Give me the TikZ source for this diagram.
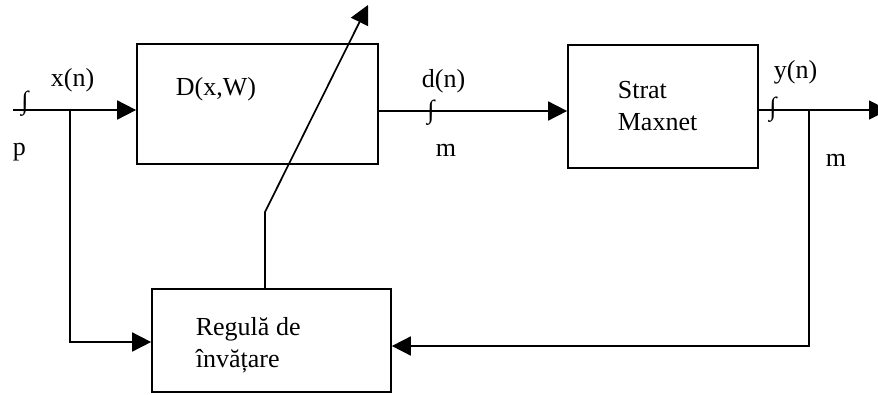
\documentclass[tikz,border=0pt]{standalone}
\usepackage{fontspec}
\setmainfont{Liberation Serif}
\usetikzlibrary{arrows.meta}
\begin{document}
\begin{tikzpicture}[x=1pt,y=-1pt,
  font=\fontsize{26}{33}\selectfont,
  line width=1.7pt,
  block/.style={draw, line width=1.7pt, inner sep=0pt},
  lbl/.style={anchor=base west, inner sep=0pt},
  intg/.style={inner sep=0pt, font=\fontsize{26}{26}\selectfont},
  arr/.style={-{Triangle[length=19pt,width=19pt]}}]
\clip (0,0) rectangle (878,394);
\useasboundingbox (0,0) rectangle (878,394);

% blocks
\node[block, minimum width=241pt, minimum height=120pt] (D) at (257.5,104) {};
\node[block, minimum width=190pt, minimum height=123pt] (S) at (663,106.5) {};
\node[block, minimum width=239pt, minimum height=103pt] (R) at (271.5,340.5) {};

% block texts
\node[lbl] (Dt) at (175,95) {D(x,W)};
\node[lbl] (St1) at (617,98) {Strat};
\node[lbl] (St2) at (617,130) {Maxnet};
\node[lbl] (Rt1) at (195,335) {Regulă de};
\node[lbl] (Rt2) at (195,367) {învățare};

% signal labels
\node[lbl] (xl) at (50,86) {x(n)};
\node[lbl] (dl) at (421,87) {d(n)};
\node[lbl] (yl) at (773,78) {y(n)};
\node[lbl] (pl) at (12,155) {p};
\node[lbl] (ml1) at (435,156) {m};
\node[lbl] (ml2) at (825,166) {m};

% integral marks on the lines
\node[intg] (i1) at (25,104) {∫};
\node[intg] (i2) at (431,113) {∫};
\node[intg] (i3) at (773,110) {∫};

% connection points
\coordinate (xin) at (13,110);
\coordinate (xb) at (70,110);
\coordinate (yb) at (809,110);
\coordinate (yout) at (888,110);
\coordinate (bend) at (265,212);
\coordinate (tip) at (368,5);

% forward path
\draw[arr] (xin) -- (D.west |- xin);
\draw[arr] (D.east |- 0,111) -- (S.west |- 0,111);
\draw[arr] (S.east |- yout) -- (yout);

% feedback into the learning rule
\draw[arr] (xb) |- (R.west |- 0,342);
\draw[arr] (yb) |- (R.east |- 0,346);

% weight adjustment
\draw[arr] (R.north -| bend) -- (bend) -- (tip);
\end{tikzpicture}
\end{document}
